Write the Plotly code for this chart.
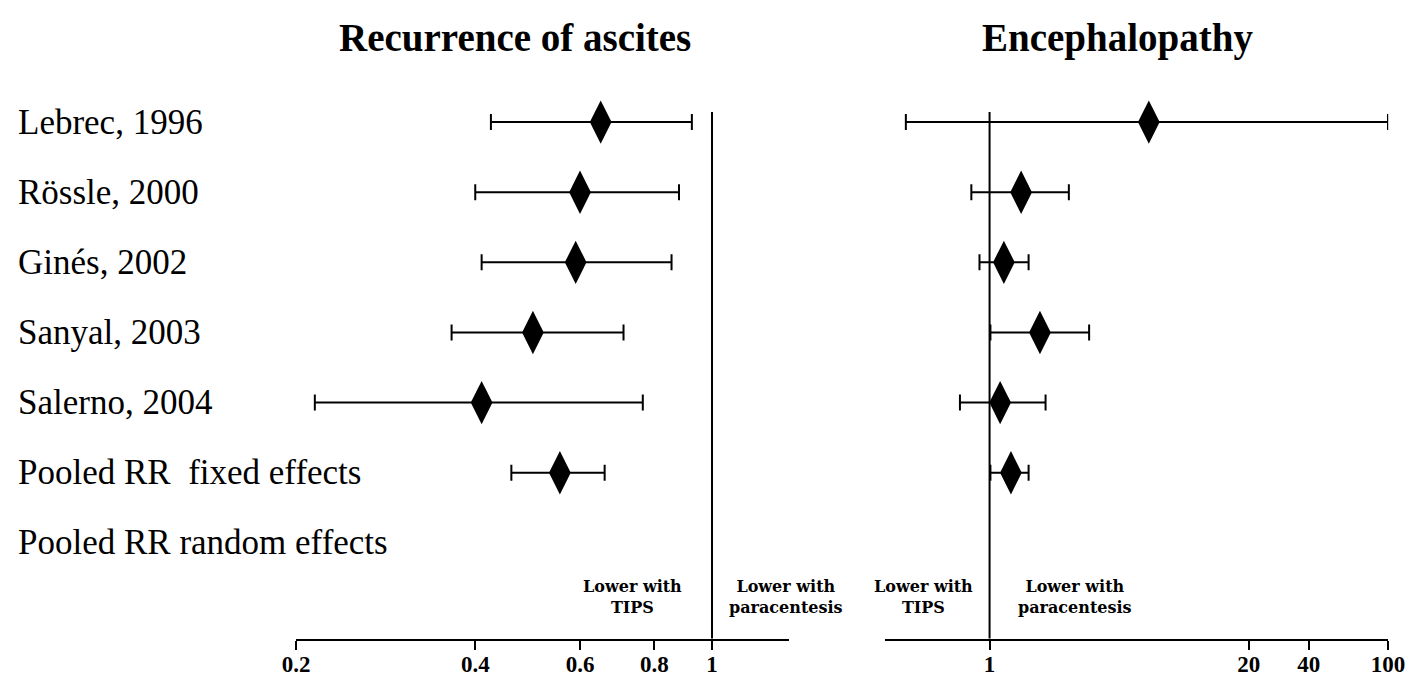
import math
import plotly.graph_objects as go

# ---------------- data ----------------
studies = ["Lebrec, 1996", "Rössle, 2000", "Ginés, 2002", "Sanyal, 2003",
           "Salerno, 2004", "Pooled RR  fixed effects", "Pooled RR random effects"]
plotted = studies[:6]

ascites_rr = [0.65, 0.60, 0.59, 0.50, 0.41, 0.555]
ascites_lo = [0.425, 0.40, 0.41, 0.365, 0.215, 0.46]
ascites_hi = [0.925, 0.88, 0.855, 0.71, 0.765, 0.66]

enceph_rr = [6.3, 1.44, 1.18, 1.79, 1.13, 1.28]
enceph_lo = [0.38, 0.81, 0.89, 1.01, 0.71, 1.01]
enceph_hi = [100, 2.5, 1.57, 3.16, 1.91, 1.57]

asc_ticks = [0.2, 0.4, 0.6, 0.8, 1]
asc_ticktext = ["0.2", "0.4", "0.6", "0.8", "1"]
enc_ticks = [1, 20, 40, 100]
enc_ticktext = ["1", "20", "40", "100"]

titles = ["Recurrence of ascites", "Encephalopathy"]
side_left = "Lower with<br>TIPS"
side_right = "Lower with<br>paracentesis"

# ---------------- layout helpers ----------------
W, H = 1412, 682
SERIF = "Liberation Serif, Times New Roman, serif"


def px(x):
    return x / W


def py(y):
    return 1 - y / H


axis_y = 638.6
fig = go.Figure()

for xs, lo, hi, xa in [(ascites_rr, ascites_lo, ascites_hi, "x"),
                       (enceph_rr, enceph_lo, enceph_hi, "x2")]:
    fig.add_trace(go.Scatter(
        x=xs, y=plotted, mode="markers", xaxis=xa, yaxis="y",
        marker=dict(symbol="diamond-tall", size=31, color="black",
                    line=dict(width=0)),
        error_x=dict(type="data", symmetric=False,
                     array=[h - v for h, v in zip(hi, xs)],
                     arrayminus=[v - l for v, l in zip(xs, lo)],
                     color="black", thickness=2, width=8),
        cliponaxis=False, showlegend=False, hoverinfo="skip"))

tickfont = dict(family=SERIF, size=23, color="black", weight="bold")
common_x = dict(type="log", showgrid=False, zeroline=False, showline=True,
                linecolor="black", linewidth=2, ticks="outside", ticklen=9,
                tickwidth=2, tickcolor="black", tickfont=tickfont, anchor="y",
                automargin=False, ticklabelstandoff=-5)

fig.update_layout(
    template="none",
    width=W, height=H, margin=dict(l=0, r=0, t=0, b=0, pad=0),
    paper_bgcolor="white", plot_bgcolor="white",
    xaxis=dict(common_x, domain=[px(295.5), px(788.6)],
               range=[math.log10(0.1995), math.log10(1.345)],
               tickvals=asc_ticks, ticktext=asc_ticktext),
    xaxis2=dict(common_x, domain=[px(885.4), px(1388.2)],
                range=[math.log10(0.30), math.log10(100.2)],
                tickvals=enc_ticks, ticktext=enc_ticktext),
    yaxis=dict(type="category", categoryarray=studies,
               range=[(axis_y - 123) / 70, -0.8],
               domain=[py(axis_y), py(66)], automargin=False,
               showticklabels=False, showgrid=False, zeroline=False,
               showline=False),
)

# reference lines at RR = 1
for xr in ["x", "x2"]:
    fig.add_shape(type="line", xref=xr, yref="paper", x0=1, x1=1,
                  y0=py(axis_y), y1=py(112),
                  line=dict(color="black", width=2))

ann = []
# titles
for t, cx in zip(titles, [515, 1117]):
    ann.append(dict(text=t, x=px(cx), y=py(38), xref="paper", yref="paper",
                    xanchor="center", yanchor="middle", showarrow=False,
                    font=dict(family=SERIF, size=39, color="black",
                              weight="bold")))
# row labels
for s in studies:
    ann.append(dict(text=s.replace("  ", " \u00a0"), x=px(16), y=s,
                    xref="paper", yref="y", xanchor="left", yanchor="middle",
                    showarrow=False,
                    font=dict(family=SERIF, size=35, color="black")))
# direction labels
for txt, cx in [(side_left, 632), (side_right, 786),
                (side_left, 923), (side_right, 1075)]:
    ann.append(dict(text=txt, x=px(cx), y=py(597), xref="paper",
                    yref="paper", xanchor="center", yanchor="middle",
                    showarrow=False, align="center",
                    font=dict(family="DejaVu Serif", size=16, color="black",
                              weight="bold")))
fig.update_layout(annotations=ann)

fig.write_html("out.html")
